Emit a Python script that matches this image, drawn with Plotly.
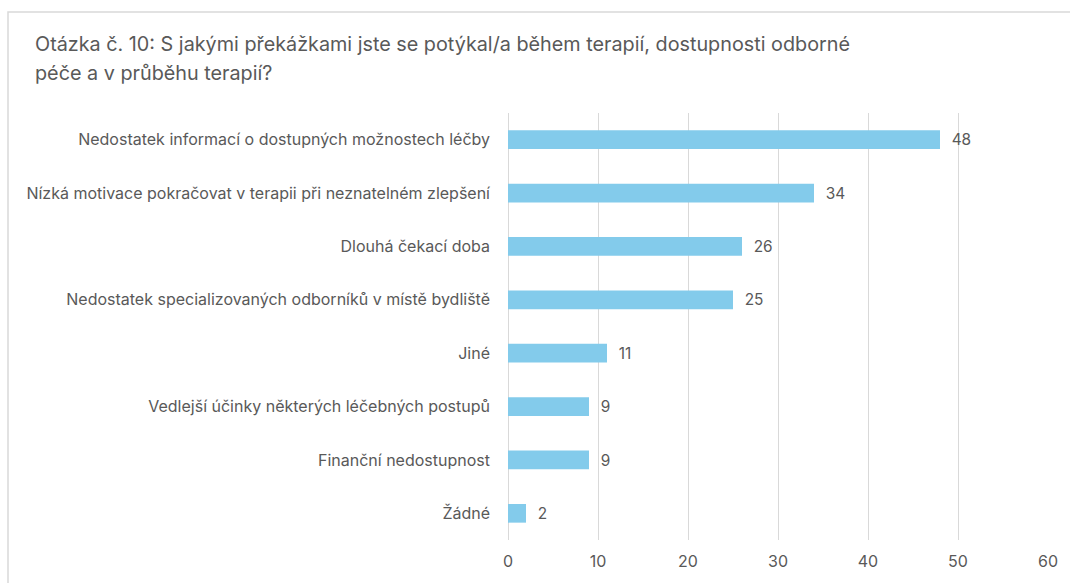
import plotly.graph_objects as go

categories = [
    "Nedostatek informací o dostupných možnostech léčby",
    "Nízká motivace pokračovat v terapii při neznatelném zlepšení",
    "Dlouhá čekací doba",
    "Nedostatek specializovaných odborníků v místě bydliště",
    "Jiné",
    "Vedlejší účinky některých léčebných postupů",
    "Finanční nedostupnost",
    "Žádné",
]
values = [48, 34, 26, 25, 11, 9, 9, 2]
x_ticks = [0, 10, 20, 30, 40, 50, 60]
title_lines = [
    "Otázka č. 10: S jakými překážkami jste se potýkal/a během terapií, dostupnosti odborné",
    "péče a v průběhu terapií?",
]

FONT = "Inter, Open Sans, sans-serif"
GRAY = "#595959"
W, H = 1070, 583
L, R, T, B = 508, 22, 113, 43

fig = go.Figure(go.Bar(
    x=values,
    y=categories,
    orientation="h",
    marker=dict(color="#83CBEB", line=dict(width=0)),
    text=["  " + str(v) for v in values],
    textposition="outside",
    textfont=dict(size=16.5, color=GRAY, family=FONT),
    cliponaxis=False,
))

fig.update_layout(
    width=W, height=H,
    paper_bgcolor="white", plot_bgcolor="white",
    margin=dict(l=L, r=R, t=T, b=B, autoexpand=False),
    bargap=0.65,
    showlegend=False,
    font=dict(family=FONT, color=GRAY),
)

for i, line in enumerate(title_lines):
    fig.add_annotation(
        text=line, xref="paper", yref="paper",
        x=(33 - L) / (W - L - R), xanchor="left",
        y=1 + (T - (44 + 29 * i)) / (H - T - B), yanchor="middle",
        showarrow=False, font=dict(size=19.8, color=GRAY, family=FONT),
    )

fig.update_xaxes(
    range=[0, 60], tickvals=x_ticks, ticktext=[str(t) for t in x_ticks],
    showgrid=True, gridcolor="#D9D9D9", gridwidth=1.3,
    zeroline=True, zerolinecolor="#D9D9D9", zerolinewidth=1.3,
    showline=False, ticks="",
    tickfont=dict(size=16, color=GRAY, family=FONT),
    ticklabelstandoff=10,
)
fig.update_yaxes(
    autorange="reversed",
    showgrid=False, showline=False, ticks="",
    tickfont=dict(size=16, color=GRAY, family=FONT),
    ticklabelstandoff=17,
)

fig.add_shape(
    type="rect", xref="paper", yref="paper",
    x0=(8 - L) / (W - L - R), x1=1.2,
    y0=-0.5, y1=1 + (T - 12) / (H - T - B),
    line=dict(color="#D9D9D9", width=1.5), fillcolor="rgba(0,0,0,0)",
    layer="below",
)

fig.write_html(
    "out.html",
    config={"displayModeBar": False},
    post_script="document.body.style.margin='0px';",
)
